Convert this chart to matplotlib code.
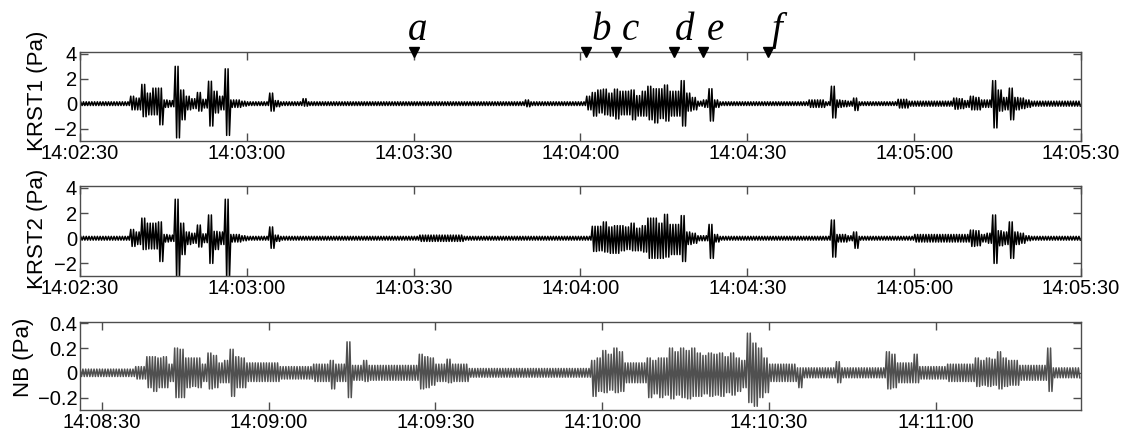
import numpy as np
import matplotlib
matplotlib.use('Agg')
import matplotlib.pyplot as plt
from matplotlib import font_manager
from matplotlib.ticker import FuncFormatter, FixedLocator
import matplotlib.transforms as mtransforms

# peak values per 1 s bin (upper / lower)
krst1_start = 14*3600 + 2*60 + 30
krst1_up = ([0.15]*9 + [0.6, 0.45, 1.55, 0.85, 1.25, 1.25, 0.3, 0.25, 3.0, 1.1, 0.6, 0.4, 0.9, 0.35, 1.8, 1.0, 0.6, 2.8, 0.3, 0.3, 0.2]
            + [0.15]*4 + [0.85, 0.25] + [0.15]*4 + [0.4] + [0.15]*39 + [0.3] + [0.15]*10
            + [0.6, 0.9, 1.1, 1.17, 0.85, 1.17, 1.0, 1.0, 1.1, 0.65, 1.0, 1.4, 1.2, 1.2, 1.5, 1.0, 1.0, 1.85, 0.85, 0.5, 0.2, 0.3, 1.2, 0.3]
            + [0.15]*16 + [0.3]*3 + [0.15] + [1.4, 0.3, 0.25, 0.2, 0.45] + [0.15]*7 + [0.35, 0.35] + [0.2]*8
            + [0.45, 0.4, 0.25, 0.6, 0.5, 0.3, 0.3, 1.85, 1.1, 0.5, 1.25, 0.5, 0.45, 0.3] + [0.2]*9)
krst1_dn = ([-0.15]*9 + [-0.5, -0.5, -1.05, -0.9, -0.9, -1.7, -0.3, -0.25, -2.75, -1.3, -0.5, -0.4, -0.6, -0.35, -1.8, -0.75, -0.5, -2.55, -0.3, -0.3, -0.2]
            + [-0.15]*4 + [-0.6, -0.25] + [-0.15]*4 + [-0.2] + [-0.15]*39 + [-0.25] + [-0.15]*10
            + [-0.5, -1.0, -0.75, -0.9, -1.0, -1.23, -0.9, -0.9, -1.3, -1.0, -1.0, -1.3, -1.55, -1.2, -1.4, -1.0, -1.0, -1.8, -0.6, -0.5, -0.2, -0.3, -1.4, -0.3]
            + [-0.15]*16 + [-0.3]*3 + [-0.15] + [-1.15, -0.3, -0.25, -0.2, -0.55] + [-0.15]*7 + [-0.35, -0.35] + [-0.2]*8
            + [-0.45, -0.4, -0.3, -0.5, -0.5, -0.3, -0.3, -1.95, -0.6, -0.5, -1.3, -0.5, -0.4, -0.3] + [-0.2]*9)

krst2_up = ([0.15]*9 + [0.7, 0.5, 1.6, 1.2, 1.2, 1.3, 0.3, 0.25, 3.1, 1.2, 0.5, 0.4, 1.05, 0.35, 1.85, 0.55, 0.5, 3.1, 0.3, 0.3, 0.2]
            + [0.15]*4 + [0.9, 0.25] + [0.15]*25 + [0.25]*8 + [0.15]*23
            + [0.95, 0.95, 1.3, 0.9, 1.0, 1.0, 0.9, 1.2, 0.8, 1.0, 1.6, 1.6, 1.2, 1.9, 1.1, 1.1, 1.8, 0.5, 0.4, 0.2, 0.2, 1.1, 0.3]
            + [0.15]*20 + [1.45, 0.3, 0.3, 0.2, 0.5] + [0.15]*10 + [0.3]*10
            + [0.65, 0.6, 0.3, 0.4, 1.85, 0.6, 0.5, 1.3, 0.5, 0.4, 0.2] + [0.15]*9)
krst2_dn = ([-0.15]*9 + [-0.65, -0.5, -0.9, -0.85, -0.85, -1.85, -0.3, -0.25, -3.3, -1.3, -0.5, -0.4, -0.7, -0.35, -2.0, -0.9, -0.5, -3.3, -0.3, -0.3, -0.2]
            + [-0.15]*4 + [-0.8, -0.25] + [-0.15]*25 + [-0.25]*8 + [-0.15]*23
            + [-1.05, -1.0, -1.1, -1.2, -1.2, -1.0, -0.9, -1.0, -1.0, -1.1, -1.6, -1.6, -1.6, -1.5, -1.3, -1.3, -1.85, -0.5, -0.4, -0.2, -0.2, -1.6, -0.3]
            + [-0.15]*20 + [-1.5, -0.3, -0.3, -0.2, -0.8] + [-0.15]*10 + [-0.3]*10
            + [-0.65, -0.6, -0.3, -0.4, -2.0, -0.6, -0.5, -1.6, -0.5, -0.4, -0.2] + [-0.15]*9)

nb_start = 14*3600 + 8*60 + 26
nb_up = ([0.03]*10 + [0.05]*2 + [0.13, 0.13, 0.12, 0.13] + [0.07] + [0.2, 0.19] + [0.12]*3 + [0.07] + [0.16, 0.14]
         + [0.08, 0.1] + [0.19] + [0.13, 0.12] + [0.08]*6 + [0.05]*6 + [0.07]*3 + [0.1] + [0.07]*2 + [0.25]
         + [0.06]*2 + [0.1] + [0.06]*9 + [0.15, 0.13, 0.12] + [0.07]*2 + [0.11] + [0.07]*3 + [0.035]*22
         + [0.1, 0.12] + [0.18, 0.15, 0.2, 0.17] + [0.08]*4 + [0.12, 0.1, 0.12, 0.12] + [0.2, 0.17, 0.2, 0.18, 0.2]
         + [0.16, 0.14, 0.16, 0.15, 0.16, 0.13, 0.16, 0.12] + [0.1, 0.32, 0.24, 0.2, 0.12] + [0.07]*5 + [0.04]*7
         + [0.09] + [0.04]*8 + [0.17, 0.15] + [0.08]*3 + [0.15] + [0.05]*5 + [0.07]*5 + [0.12, 0.1, 0.12, 0.11]
         + [0.17] + [0.12, 0.1, 0.1] + [0.06]*5 + [0.2] + [0.04]*5)
nb_dn = ([-0.03]*10 + [-0.05]*2 + [-0.12, -0.15, -0.12, -0.12] + [-0.07] + [-0.2, -0.2] + [-0.12, -0.11, -0.12] + [-0.07] + [-0.13, -0.12]
         + [-0.08, -0.08] + [-0.19] + [-0.12, -0.12] + [-0.07]*6 + [-0.05]*6 + [-0.07]*3 + [-0.13] + [-0.07]*2 + [-0.2]
         + [-0.06]*2 + [-0.07] + [-0.06]*9 + [-0.13, -0.12, -0.1] + [-0.07]*2 + [-0.08] + [-0.07]*3 + [-0.035]*22
         + [-0.19, -0.15] + [-0.16, -0.14, -0.16, -0.15] + [-0.08]*4 + [-0.2, -0.17, -0.2, -0.18] + [-0.21, -0.18, -0.2, -0.21, -0.19]
         + [-0.19, -0.17, -0.19, -0.18, -0.19, -0.16, -0.18, -0.15] + [-0.12, -0.24, -0.27, -0.2, -0.16] + [-0.07]*5 + [-0.12] + [-0.04]*6
         + [-0.08] + [-0.04]*8 + [-0.13, -0.12] + [-0.08]*3 + [-0.08] + [-0.05]*5 + [-0.07]*5 + [-0.11, -0.1, -0.11, -0.1]
         + [-0.13] + [-0.11, -0.1, -0.1] + [-0.06]*5 + [-0.15] + [-0.04]*5)

# event markers on top panel
event_labels = ['a', 'b', 'c', 'd', 'e', 'f']
event_times = [50610, 50641, 50646.4, 50656.8, 50662, 50673.7]
label_times = [50610.7, 50643.8, 50648.9, 50658.8, 50664.2, 50675.3]

plt.rcParams['font.family'] = ['Liberation Sans', 'DejaVu Sans']
fs = 14.5


def hms(x, pos=None):
    x = int(round(x))
    return '%02d:%02d:%02d' % (x // 3600, (x % 3600) // 60, x % 60)


def trace(up, dn, start):
    # each 1 s bin drawn as two swings between its upper and lower peak
    n = len(up)
    t = np.repeat(start + np.arange(n), 4) + np.tile([0.125, 0.375, 0.625, 0.875], n)
    y = np.column_stack([up, dn, up, dn]).ravel()
    return t, y


fig = plt.figure(figsize=(11.28, 4.41), dpi=100)
L, W = 80/1128, 1001/1128
ax1 = fig.add_axes([L, 1-141/441, W, 89/441])
ax2 = fig.add_axes([L, 1-276/441, W, 90/441])
ax3 = fig.add_axes([L, 1-410/441, W, 88/441])

for ax, up, dn, st, col in [(ax1, krst1_up, krst1_dn, krst1_start, 'black'),
                            (ax2, krst2_up, krst2_dn, krst1_start, 'black'),
                            (ax3, nb_up, nb_dn, nb_start, '#505050')]:
    t, y = trace(up, dn, st)
    ax.plot(t, y, color=col, lw=1.1)

for ax in (ax1, ax2):
    ax.set_xlim(krst1_start, krst1_start + 180)
    ax.set_ylim(-3, 4.15)
    ax.set_yticks([-2, 0, 2, 4])
    ax.xaxis.set_major_locator(FixedLocator(np.arange(krst1_start, krst1_start + 181, 30)))
ax3.set_xlim(nb_start + 0.1, nb_start + 180.1)
ax3.set_ylim(-0.3, 0.41)
ax3.set_yticks([-0.2, 0, 0.2, 0.4])
ax3.xaxis.set_major_locator(FixedLocator(np.arange(nb_start + 4, nb_start + 180, 30)))

for ax in (ax1, ax2, ax3):
    ax.xaxis.set_major_formatter(FuncFormatter(hms))
    ax.yaxis.set_major_formatter(FuncFormatter(lambda v, p: '%g' % v if v >= 0 else '\u2212%g' % -v))
    ax.tick_params(direction='in', top=True, right=True, length=6, width=1, color='0.3',
                   labelsize=fs, pad=2)
    for s in ax.spines.values():
        s.set_color('0.3')
        s.set_linewidth(1)

fig.text(37/1128, 1-91/441, 'KRST1 (Pa)', rotation=90, ha='center', va='center', fontsize=16)
fig.text(37/1128, 1-229/441, 'KRST2 (Pa)', rotation=90, ha='center', va='center', fontsize=16)
fig.text(23/1128, 1-357/441, 'NB (Pa)', rotation=90, ha='center', va='center', fontsize=16)

ax1.plot(event_times, [4.15]*len(event_times), 'v', color='black', ms=7, clip_on=False, zorder=5)
tr = mtransforms.blended_transform_factory(ax1.transData, fig.transFigure)
for lab, tx in zip(event_labels, label_times):
    ax1.text(tx, 1-40/441, lab, transform=tr, ha='center', va='baseline',
             fontsize=28, style='italic', family='Liberation Serif')

fig.savefig('out.png', dpi=100)
